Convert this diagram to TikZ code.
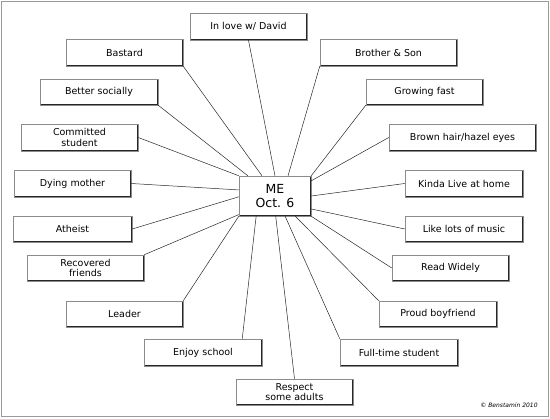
\documentclass[tikz,border=0pt]{standalone}
\usepackage{fontspec}
\setmainfont{DejaVu Sans}
\usepackage{tikz}
\usetikzlibrary{calc}

\tikzset{
  trait/.style={draw=black!45, line width=0.5pt, fill=white, minimum width=117pt,
    minimum height=27pt, inner sep=1pt, align=center,
    font=\fontsize{9.5}{10.5}\selectfont,
    path picture={\draw[black!85, line width=1.2pt]
      (path picture bounding box.north east) -- (path picture bounding box.south east)
      -- (path picture bounding box.south west);}},
  link/.style={black!85, line width=0.5pt},
}

\begin{document}
\begin{tikzpicture}[x=1pt, y=-1pt]
        \useasboundingbox (0,0) rectangle (550,419);
        \draw[black!40, line width=1pt] (1.5,1.5) rectangle (548,417);

        % centre
        \node[trait, minimum width=72pt, minimum height=40pt,
          font=\fontsize{12.5}{13.5}\selectfont] (me) at (275,196) {ME\\Oct. 6};

        % left side
        \node[trait] (love) at (248.5,26.5) {In love w/ David};
        \node[trait] (bastard) at (124.5,52.5) {Bastard};
        \node[trait, minimum width=118pt, minimum height=26pt] (better) at (99,92) {Better socially};
        \node[trait] (committed) at (79.5,137.5) {Committed\\student};
        \node[trait] (dying) at (72.5,183.5) {Dying mother};
        \node[trait, minimum width=119pt, minimum height=26pt] (atheist) at (72.5,229) {Atheist};
        \node[trait, minimum height=26pt] (recovered) at (85.5,268) {Recovered\\friends};
        \node[trait, minimum height=26pt] (leader) at (124.5,314) {Leader};
        \node[trait, minimum width=118pt] (enjoy) at (203,352.5) {Enjoy school};
        \node[trait, minimum height=26pt] (respect) at (294.5,392) {Respect\\some adults};

        % right side
        \node[trait, minimum width=137pt] (brother) at (388.5,52.5) {Brother \& Son};
        \node[trait, minimum height=26pt] (growing) at (424.5,92) {Growing fast};
        \node[trait, minimum width=147pt] (brown) at (462.5,137.5) {Brown hair/hazel eyes};
        \node[trait, minimum width=118pt] (kinda) at (464,183.5) {Kinda Live at home};
        \node[trait, minimum width=118pt, minimum height=26pt] (like) at (464,229) {Like lots of music};
        \node[trait, minimum height=26pt] (read) at (450.5,268) {Read Widely};
        \node[trait, minimum width=118pt, minimum height=26pt] (proud) at (438,314) {Proud boyfriend};
        \node[trait, minimum width=118pt] (fulltime) at (399,352.5) {Full-time student};

        % spokes
        \draw[link] (love.south) -- ($(me.north west)!0.5!(me.north east)$);
        \draw[link] (bastard.south east) -- ($(me.north west)!0.32!(me.north east)$);
        \draw[link] (better.south east) -- ($(me.north west)!0.125!(me.north east)$);
        \draw[link] (committed.east) -- (me.north west);
        \draw[link] (dying.east) -- ($(me.north west)!0.35!(me.south west)$);
        \draw[link] (atheist.east) -- ($(me.north west)!0.52!(me.south west)$);
        \draw[link] (recovered.north east) -- ($(me.north west)!0.96!(me.south west)$);
        \draw[link] (leader.north east) -- (me.south west);
        \draw[link] ([xshift=-20pt]enjoy.north east) -- ($(me.south west)!0.24!(me.south east)$);
        \draw[link] (respect.north) -- ($(me.south west)!0.51!(me.south east)$);
        \draw[link] (fulltime.north west) -- ($(me.south west)!0.64!(me.south east)$);
        \draw[link] (proud.north west) -- ($(me.south west)!0.78!(me.south east)$);
        \draw[link] (read.west) -- (me.south east);
        \draw[link] (like.west) -- ($(me.north east)!0.82!(me.south east)$);
        \draw[link] (kinda.west) -- ($(me.north east)!0.5!(me.south east)$);
        \draw[link] (brown.west) -- ($(me.north east)!0.125!(me.south east)$);
        \draw[link] (growing.south west) -- (me.north east);
        \draw[link] (brother.south west) -- ($(me.north west)!0.68!(me.north east)$);

        \node[font=\fontsize{6}{7}\itshape] (credit) at (509,405) {© Benstamin 2010};
    \end{tikzpicture}
\end{document}
